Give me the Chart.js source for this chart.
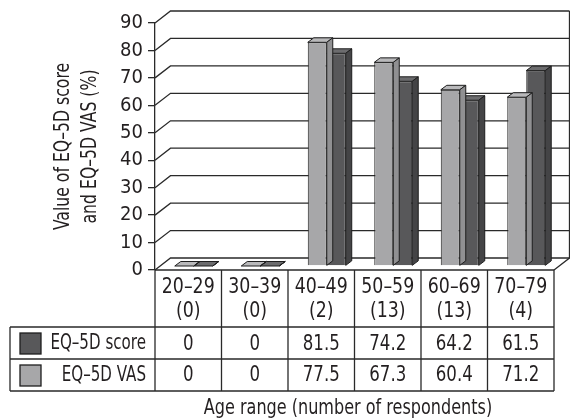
<!DOCTYPE html>
<html>
<head>
<meta charset="utf-8">
<script src="https://cdn.jsdelivr.net/npm/chart.js@4"></script>
<style>
  body { margin: 0; background: #fff; }
  canvas { display: block; }
</style>
</head>
<body>
<canvas id="eqChart" width="570" height="419"></canvas>
<script>
const ageGroups = ["20\u201329", "30\u201339", "40\u201349", "50\u201359", "60\u201369", "70\u201379"];
const respondents = [0, 0, 2, 13, 13, 4];
const scoreValues = [0, 0, 81.5, 74.2, 64.2, 61.5];
const vasValues = [0, 0, 77.5, 67.3, 60.4, 71.2];
const yMax = 90;
const yStep = 10;

const FONT = "'DejaVu Sans Condensed', 'Liberation Sans Narrow', 'Liberation Sans', sans-serif";
const INK = "#231f20";
const LINE = "#2a2a2a";

// depth offsets for the fake 3D look
const WALL = { dx: 15.5, dy: -12 };
const BAR_SHIFT = { dx: 5.5, dy: -4 };
const BAR_DEPTH = { dx: 6, dy: -4.5 };

const faceColors = [
    { front: "#a7a7a9", top: "#b9b9bb", side: "#909092" },
    { front: "#58585a", top: "#6c6c6e", side: "#444446" }
];

// narrow text by squeezing it horizontally (no condensed font installed)
function squeezeText(ctx, text, x, y, align, sx) {
    ctx.save();
    ctx.translate(x, y);
    ctx.scale(sx, 1);
    ctx.textAlign = align;
    ctx.fillText(text, 0, 0);
    ctx.restore();
}

const wallPlugin = {
    id: "wall",
    beforeDatasetsDraw(chart) {
        const { ctx, chartArea, scales } = chart;
        const y = scales.y;
        ctx.save();
        ctx.strokeStyle = LINE;
        ctx.lineWidth = 1.3;
        for (let v = 0; v <= yMax; v += yStep) {
            const py = y.getPixelForValue(v);
            ctx.beginPath();
            ctx.moveTo(chartArea.left, py);
            ctx.lineTo(chartArea.left + WALL.dx, py + WALL.dy);
            ctx.lineTo(chartArea.right + WALL.dx, py + WALL.dy);
            ctx.stroke();
        }
        // right edge of the back wall and the floor corner
        const top = y.getPixelForValue(yMax) + WALL.dy;
        const base = y.getPixelForValue(0);
        ctx.beginPath();
        ctx.moveTo(chartArea.right + WALL.dx, top);
        ctx.lineTo(chartArea.right + WALL.dx, base + WALL.dy);
        ctx.lineTo(chartArea.right, base);
        ctx.stroke();
        ctx.restore();

        // shift bars into the middle of the depth
        ctx.save();
        ctx.translate(BAR_SHIFT.dx, BAR_SHIFT.dy);
    },
    afterDatasetDraw(chart, args) {
        const ctx = chart.ctx;
        const c = faceColors[args.index];
        ctx.save();
        ctx.strokeStyle = "#1e1e1e";
        ctx.lineWidth = 1;
        args.meta.data.forEach(bar => {
            const l = bar.x - bar.width / 2;
            const r = bar.x + bar.width / 2;
            const t = bar.y;
            const b = bar.base;
            // top face
            ctx.beginPath();
            ctx.moveTo(l, t);
            ctx.lineTo(l + BAR_DEPTH.dx, t + BAR_DEPTH.dy);
            ctx.lineTo(r + BAR_DEPTH.dx, t + BAR_DEPTH.dy);
            ctx.lineTo(r, t);
            ctx.closePath();
            ctx.fillStyle = c.top;
            ctx.fill();
            ctx.stroke();
            // side face
            ctx.beginPath();
            ctx.moveTo(r, t);
            ctx.lineTo(r + BAR_DEPTH.dx, t + BAR_DEPTH.dy);
            ctx.lineTo(r + BAR_DEPTH.dx, b + BAR_DEPTH.dy);
            ctx.lineTo(r, b);
            ctx.closePath();
            ctx.fillStyle = c.side;
            ctx.fill();
            ctx.stroke();
        });
        ctx.restore();
    },
    afterDatasetsDraw(chart) {
        chart.ctx.restore();
    }
};

const tablePlugin = {
    id: "dataTable",
    afterDraw(chart) {
        const { ctx, chartArea } = chart;
        const n = ageGroups.length;
        const left = chartArea.left;
        const right = chartArea.right;
        const cw = (right - left) / n;
        const top = chartArea.bottom;
        const r1 = top + 57;
        const r2 = r1 + 32;
        const bottom = r2 + 32;
        const legLeft = 10;

        ctx.save();
        ctx.strokeStyle = LINE;
        ctx.lineWidth = 1.3;
        ctx.beginPath();
        ctx.moveTo(left, top); ctx.lineTo(right, top);
        [r1, r2, bottom].forEach(yy => { ctx.moveTo(legLeft, yy); ctx.lineTo(right, yy); });
        for (let i = 0; i <= n; i++) {
            const x = left + i * cw;
            ctx.moveTo(x, top); ctx.lineTo(x, bottom);
        }
        ctx.moveTo(legLeft, r1); ctx.lineTo(legLeft, bottom);
        ctx.stroke();

        ctx.fillStyle = INK;
        ctx.font = "21px " + FONT;
        ctx.textBaseline = "middle";
        for (let i = 0; i < n; i++) {
            const cx = left + (i + 0.5) * cw;
            squeezeText(ctx, ageGroups[i], cx, top + 18, "center", 0.92);
            squeezeText(ctx, "(" + respondents[i] + ")", cx, top + 42, "center", 0.92);
            squeezeText(ctx, String(scoreValues[i]), cx, r1 + 17.5, "center", 0.88);
            squeezeText(ctx, String(vasValues[i]), cx, r2 + 16.5, "center", 0.88);
        }

        // legend rows
        const rows = [
            { label: "EQ\u20135D score", color: faceColors[1].front, y: r1 },
            { label: "EQ\u20135D VAS", color: faceColors[0].front, y: r2 }
        ];
        rows.forEach(row => {
            ctx.fillStyle = row.color;
            ctx.fillRect(20, row.y + 6, 21, 21);
            ctx.strokeStyle = "#1e1e1e";
            ctx.lineWidth = 1.3;
            ctx.strokeRect(20, row.y + 6, 21, 21);
            ctx.fillStyle = INK;
            squeezeText(ctx, row.label, 146, row.y + 17, "right", 0.8);
        });

        // axis titles
        ctx.font = "21px " + FONT;
        squeezeText(ctx, "Age range (number of respondents)", 348, 409, "center", 0.85);

        const midY = (chartArea.top + chartArea.bottom) / 2;
        ctx.save();
        ctx.translate(64, midY);
        ctx.rotate(-Math.PI / 2);
        squeezeText(ctx, "Value of EQ\u20135D score", 0, 0, "center", 0.83);
        ctx.restore();
        ctx.save();
        ctx.translate(91, midY);
        ctx.rotate(-Math.PI / 2);
        squeezeText(ctx, "and EQ\u20135D VAS (%)", 0, 0, "center", 0.83);
        ctx.restore();
        ctx.restore();
    }
};

const ctx = document.getElementById("eqChart").getContext("2d");

new Chart(ctx, {
    type: "bar",
    data: {
        labels: ageGroups,
        datasets: [
            {
                label: "EQ-5D score",
                data: scoreValues,
                backgroundColor: faceColors[0].front,
                borderColor: "#1e1e1e",
                borderWidth: 1
            },
            {
                label: "EQ-5D VAS",
                data: vasValues,
                backgroundColor: faceColors[1].front,
                borderColor: "#1e1e1e",
                borderWidth: 1
            }
        ]
    },
    options: {
        responsive: false,
        animation: false,
        layout: { padding: { left: 40, top: 23, right: 16, bottom: 149 } },
        datasets: { bar: { categoryPercentage: 0.571, barPercentage: 1 } },
        plugins: {
            legend: { display: false },
            tooltip: { enabled: false }
        },
        scales: {
            x: { display: false },
            y: {
                min: 0,
                max: yMax,
                afterFit: s => { s.width = 115; },
                ticks: {
                    stepSize: yStep,
                    autoSkip: false,
                    color: INK,
                    padding: 5,
                    font: { size: 20, family: FONT }
                },
                grid: {
                    drawOnChartArea: false,
                    color: LINE,
                    lineWidth: 1.3,
                    tickLength: 7
                },
                border: { display: true, color: LINE, width: 1.3 }
            }
        }
    },
    plugins: [wallPlugin, tablePlugin]
});
</script>
</body>
</html>
